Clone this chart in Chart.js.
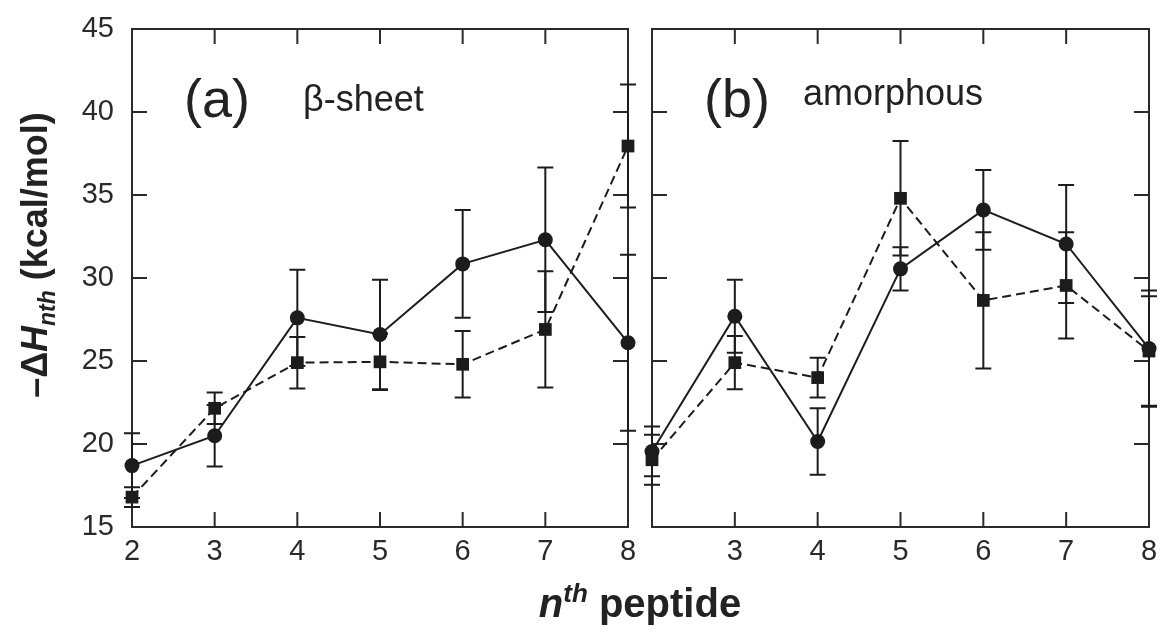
<!DOCTYPE html>
<html>
<head>
<meta charset="utf-8">
<script src="https://cdn.jsdelivr.net/npm/chart.js@4.4.1/dist/chart.umd.min.js"></script>
<style>
  html, body { margin: 0; padding: 0; background: #fff; }
  #wrap { position: relative; width: 1165px; height: 633px; }
  #wrap canvas { position: absolute; left: 0; top: 0; }
</style>
</head>
<body>
<div id="wrap">
  <canvas id="sheetChart" width="1165" height="633"></canvas>
  <canvas id="amorChart" width="1165" height="633"></canvas>
</div>
<script>
// n-th peptide
const peptideN = [2, 3, 4, 5, 6, 7, 8];

// (a) beta-sheet
const sheetCircle = [18.7, 20.5, 27.6, 26.6, 30.85, 32.3, 26.1];
const sheetCircleErr = [1.95, 1.85, 2.9, 3.3, 3.25, 4.35, 5.3];
const sheetSquare = [16.8, 22.15, 24.9, 24.95, 24.8, 26.9, 37.95];
const sheetSquareErr = [0.6, 0.95, 1.55, 1.7, 2.0, 3.5, 3.7];

// (b) amorphous
const amorCircle = [19.55, 27.7, 20.15, 30.55, 34.1, 32.05, 25.75];
const amorCircleErr = [1.5, 2.2, 2.0, 1.3, 2.4, 3.55, 3.5];
const amorSquare = [19.05, 24.9, 24.0, 34.8, 28.65, 29.55, 25.6];
const amorSquareErr = [1.5, 1.6, 1.2, 3.45, 4.1, 3.2, 3.3];

const yTicks = [15, 20, 25, 30, 35, 40, 45];

const INK = "#1c1c1c";
const FONT = "'Liberation Sans', Arial, Helvetica, sans-serif";
Chart.defaults.font.family = FONT;
Chart.defaults.color = "#2a2a2a";

const toPoints = (vals) => peptideN.map((n, i) => ({ x: n, y: vals[i] }));

function makeDatasets(circ, circErr, sq, sqErr) {
    return [
        {
            data: toPoints(circ),
            errors: circErr,
            borderColor: INK,
            backgroundColor: INK,
            borderWidth: 2,
            pointStyle: "circle",
            pointRadius: 7.5,
            pointBorderWidth: 0,
            tension: 0,
            clip: false,
        },
        {
            data: toPoints(sq),
            errors: sqErr,
            borderColor: INK,
            backgroundColor: INK,
            borderWidth: 2,
            borderDash: [9, 5],
            pointStyle: "rect",
            pointRadius: 9,
            pointBorderWidth: 0,
            tension: 0,
            clip: false,
        },
    ];
}

// cadre + graduations vers l'interieur
const framePlugin = {
    id: "frame",
    beforeDatasetsDraw(chart) {
        const { ctx, chartArea: a, scales } = chart;
        ctx.save();
        ctx.strokeStyle = "#2a2a2a";
        ctx.lineWidth = 2;
        ctx.strokeRect(a.left, a.top, a.right - a.left, a.bottom - a.top);
        ctx.beginPath();
        peptideN.slice(1, -1).forEach((n) => {
            const px = scales.x.getPixelForValue(n);
            ctx.moveTo(px, a.bottom); ctx.lineTo(px, a.bottom - 15);
            ctx.moveTo(px, a.top); ctx.lineTo(px, a.top + 15);
        });
        yTicks.slice(1, -1).forEach((v) => {
            const py = scales.y.getPixelForValue(v);
            ctx.moveTo(a.left, py); ctx.lineTo(a.left + 15, py);
            ctx.moveTo(a.right, py); ctx.lineTo(a.right - 15, py);
        });
        ctx.stroke();
        ctx.restore();
    },
};

// barres d'erreur symetriques
const errorBarPlugin = {
    id: "errorBars",
    beforeDatasetsDraw(chart) {
        const { ctx, scales: { x, y } } = chart;
        ctx.save();
        ctx.strokeStyle = INK;
        ctx.lineWidth = 2;
        chart.data.datasets.forEach((ds) => {
            ds.data.forEach((p, i) => {
                const e = ds.errors[i];
                const px = x.getPixelForValue(p.x);
                const top = y.getPixelForValue(p.y + e);
                const bot = y.getPixelForValue(p.y - e);
                ctx.beginPath();
                ctx.moveTo(px, top); ctx.lineTo(px, bot);
                ctx.moveTo(px - 8, top); ctx.lineTo(px + 8, top);
                ctx.moveTo(px - 8, bot); ctx.lineTo(px + 8, bot);
                ctx.stroke();
            });
        });
        ctx.restore();
    },
};

// dessine une suite de morceaux de texte avec styles differents
function drawRuns(ctx, runs, x, y, align) {
    let total = 0;
    runs.forEach((r) => { ctx.font = r.font; r.w = ctx.measureText(r.text).width; total += r.w; });
    let cx = align === "center" ? x - total / 2 : x;
    runs.forEach((r) => {
        ctx.font = r.font;
        ctx.fillText(r.text, cx, y + (r.dy || 0));
        cx += r.w;
    });
}

function labelsPlugin(id, draw) {
    return { id, afterDraw(chart) { const ctx = chart.ctx; ctx.save(); ctx.fillStyle = "#222"; ctx.textAlign = "left"; ctx.textBaseline = "alphabetic"; draw(ctx); ctx.restore(); } };
}

const sheetLabels = labelsPlugin("sheetLabels", (ctx) => {
    ctx.font = `54px ${FONT}`;
    ctx.fillText("(a)", 184, 117);
    ctx.font = `36px ${FONT}`;
    ctx.fillText("\u03B2-sheet", 303, 111);
    // titre axe y
    ctx.translate(47, 255);
    ctx.rotate(-Math.PI / 2);
    drawRuns(ctx, [
        { text: "\u2013\u0394", font: `bold 36px ${FONT}` },
        { text: "H", font: `italic bold 36px ${FONT}` },
        { text: "nth", font: `italic bold 23px ${FONT}`, dy: 8 },
        { text: " (kcal/mol)", font: `bold 36px ${FONT}` },
    ], 0, 0, "center");
});

const amorLabels = labelsPlugin("amorLabels", (ctx) => {
    ctx.font = `54px ${FONT}`;
    ctx.fillText("(b)", 704, 117);
    ctx.font = `36px ${FONT}`;
    ctx.fillText("amorphous", 803, 105);
    // titre axe x
    drawRuns(ctx, [
        { text: "n", font: `italic bold 40px ${FONT}` },
        { text: "th", font: `italic bold 26px ${FONT}`, dy: -15 },
        { text: " peptide", font: `bold 40px ${FONT}` },
    ], 640, 617, "center");
});

function makeOptions(showY, padding) {
    return {
        responsive: false,
        animation: false,
        events: [],
        layout: { padding },
        plugins: { legend: { display: false }, tooltip: { enabled: false } },
        scales: {
            x: {
                type: "linear",
                min: 2,
                max: 8,
                grid: { display: false, drawTicks: false },
                border: { display: false },
                ticks: {
                    stepSize: 1,
                    padding: 8,
                    font: { size: 29 },
                    callback: (v) => (showY || v !== 2 ? v : ""),
                },
                afterFit: (s) => {
                    s.height = 633 - 527;
                    s.paddingLeft = 0;
                    s.paddingRight = 0;
                },
            },
            y: {
                display: showY,
                min: 15,
                max: 45,
                grid: { display: false, drawTicks: false },
                border: { display: false },
                ticks: { stepSize: 5, padding: 18, font: { size: 29 } },
                afterFit: (s) => {
                    s.width = showY ? 132 : 0;
                    s.paddingTop = 0;
                    s.paddingBottom = 0;
                },
            },
        },
    };
}

new Chart(document.getElementById("sheetChart"), {
    type: "line",
    data: { datasets: makeDatasets(sheetCircle, sheetCircleErr, sheetSquare, sheetSquareErr) },
    options: makeOptions(true, { top: 29, right: 1165 - 628, left: 0, bottom: 0 }),
    plugins: [framePlugin, errorBarPlugin, sheetLabels],
});

new Chart(document.getElementById("amorChart"), {
    type: "line",
    data: { datasets: makeDatasets(amorCircle, amorCircleErr, amorSquare, amorSquareErr) },
    options: makeOptions(false, { top: 29, right: 16, left: 652, bottom: 0 }),
    plugins: [framePlugin, errorBarPlugin, amorLabels],
});
</script>
</body>
</html>
